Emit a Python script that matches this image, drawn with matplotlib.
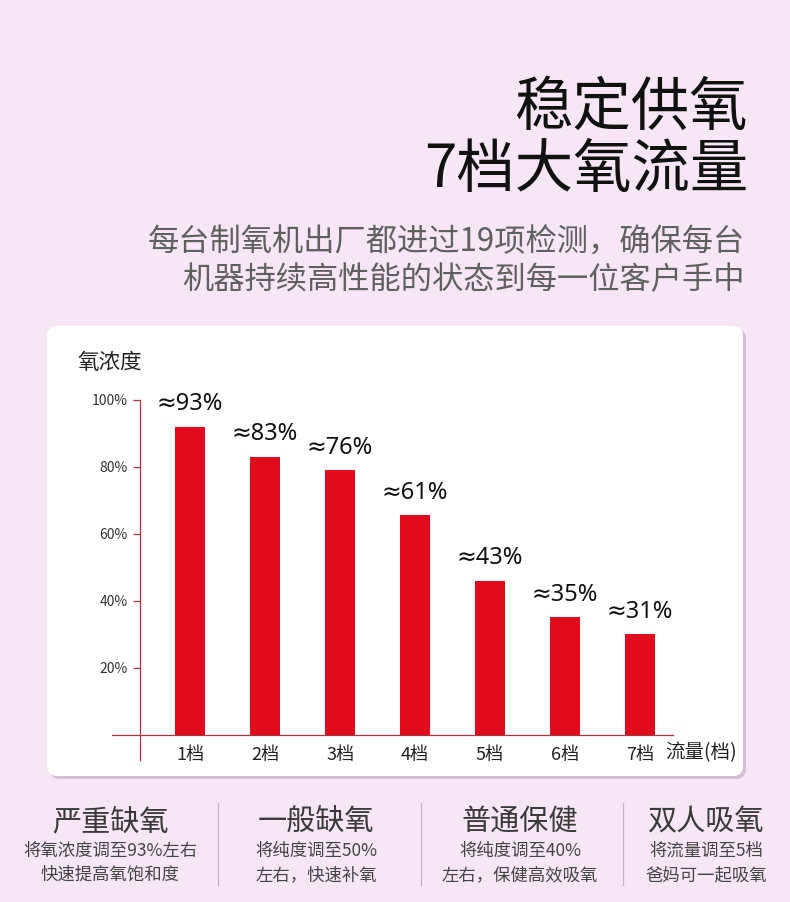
import numpy as np
import matplotlib.pyplot as plt
from matplotlib.patches import FancyBboxPatch
from matplotlib.lines import Line2D

plt.rcParams['font.family'] = ['Noto Sans CJK SC', 'DejaVu Sans']

# data
gears = ['1档', '2档', '3档', '4档', '5档', '6档', '7档']
bar_height = [92, 83, 79, 65.5, 46, 35, 30]
bar_label = ['≈93%', '≈83%', '≈76%', '≈61%', '≈43%', '≈35%', '≈31%']
yticks = [20, 40, 60, 80, 100]
ytick_labels = ['20%', '40%', '60%', '80%', '100%']

headings = ['严重缺氧', '一般缺氧', '普通保健', '双人吸氧']
notes1 = ['将氧浓度调至93%左右', '将纯度调至50%', '将纯度调至40%', '将流量调至5档']
notes2 = ['快速提高氧饱和度', '左右，快速补氧', '左右，保健高效吸氧', '爸妈可一起吸氧']

W, H = 790, 902
bg = '#f7e6f5'
red = '#e00b1c'
axis_red = '#a8323e'


def fx(x):
    return x / W


def fy(y):
    return 1 - y / H


fig = plt.figure(figsize=(W / 100, H / 100), dpi=100, facecolor=bg)

# white card with a soft shadow
shadow = FancyBboxPatch((0.50, 1.23), 6.96, 4.50, boxstyle='round,pad=0,rounding_size=0.1',
                        transform=fig.dpi_scale_trans, fc='#d3bfd3', ec='none', zorder=-3)
card = FancyBboxPatch((0.47, 1.26), 6.96, 4.50, boxstyle='round,pad=0,rounding_size=0.1',
                      transform=fig.dpi_scale_trans, fc='white', ec='none', zorder=-2)
fig.patches.extend([shadow, card])

# titles
fig.text(fx(748), fy(108), '稳定供氧', fontsize=42, ha='right', va='center', color='#111111')
fig.text(fx(748), fy(171), '7档大氧流量', fontsize=42, ha='right', va='center', color='#111111')
fig.text(fx(745), fy(243), '每台制氧机出厂都进过19项检测，确保每台', fontsize=22.5,
         ha='right', va='center', color='#606060')
fig.text(fx(745), fy(280), '机器持续高性能的状态到每一位客户手中', fontsize=22.5,
         ha='right', va='center', color='#606060')

# chart
ax = fig.add_axes([fx(140), fy(760), fx(673) - fx(140), (760 - 400) / H])
ax.set_facecolor('none')
x = np.arange(len(gears))
ax.bar(x, bar_height, width=0.4, color=red)
for xi, h, lab in zip(x, bar_height, bar_label):
    ax.annotate(lab, (xi, h), xytext=(0, 12), textcoords='offset points',
                ha='center', va='baseline', fontsize=17, color='#111111',
                family=['Noto Sans', 'DejaVu Sans'])

ax.set_xlim(-0.667, 6.44)
ax.set_ylim(-7.6, 100)
ax.axhline(0, xmin=-0.0525, xmax=1, color=axis_red, lw=0.9, clip_on=False)
for s in ['top', 'right', 'bottom']:
    ax.spines[s].set_visible(False)
ax.spines['left'].set_color(axis_red)
ax.spines['left'].set_linewidth(0.9)

ax.set_yticks(yticks)
ax.set_yticklabels(ytick_labels)
ax.tick_params(axis='y', length=5, width=0.9, color=axis_red, labelsize=10,
               labelcolor='#333333', pad=4)
ax.set_xticks(x)
ax.set_xticklabels(gears)
ax.tick_params(axis='x', length=0, labelsize=13, labelcolor='#222222', pad=-10)

fig.text(fx(77), fy(363), '氧浓度', fontsize=15.5, ha='left', va='center', color='#222222')
fig.text(fx(665), fy(753), '流量(档)', fontsize=14, ha='left', va='center', color='#222222')

# bottom notes
centers = [110, 316, 520, 706]
for c, hd, n1, n2 in zip(centers, headings, notes1, notes2):
    fig.text(fx(c), fy(822), hd, fontsize=21, ha='center', va='center', color='#3a3a3a')
    fig.text(fx(c), fy(851), n1, fontsize=12.5, ha='center', va='center', color='#444444')
    fig.text(fx(c), fy(875), n2, fontsize=12.5, ha='center', va='center', color='#444444')

for sx in [218, 421, 623]:
    fig.add_artist(Line2D([fx(sx), fx(sx)], [fy(803), fy(885)], color='#c4b4c4', lw=0.9))

fig.savefig('out.png', dpi=100, facecolor=bg)
